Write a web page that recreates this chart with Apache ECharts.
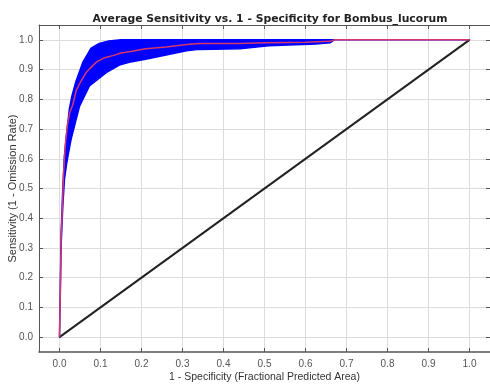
<!DOCTYPE html>
<html>
<head>
<meta charset="utf-8">
<script src="https://cdn.jsdelivr.net/npm/echarts@6/dist/echarts.min.js"></script>
<style>html,body{margin:0;padding:0;background:#fff}#c{width:490px;height:388px}</style>
</head>
<body>
<div id="c"></div>
<script>
var titleText = 'Average Sensitivity vs. 1 - Specificity for Bombus_lucorum';
var xName = '1 - Specificity (Fractional Predicted Area)';
var yName = 'Sensitivity (1 - Omission Rate)';
var tickValues = [0, 0.1, 0.2, 0.3, 0.4, 0.5, 0.6, 0.7, 0.8, 0.9, 1.0];

var meanX = [0, 0.002, 0.004, 0.006, 0.008, 0.010, 0.012, 0.015, 0.020, 0.025, 0.032, 0.041, 0.050, 0.065, 0.075, 0.090, 0.110, 0.130, 0.150, 0.170, 0.210, 0.260, 0.310, 0.340, 0.440, 0.500, 0.600, 0.660, 0.670, 1.0];
var meanY = [0, 0.15, 0.33, 0.40, 0.47, 0.55, 0.60, 0.66, 0.72, 0.755, 0.78, 0.83, 0.855, 0.89, 0.905, 0.925, 0.94, 0.947, 0.956, 0.96, 0.97, 0.976, 0.984, 0.988, 0.988, 0.99, 0.992, 0.995, 1.0, 1.0];

var upperX = [0, 0.004, 0.008, 0.012, 0.017, 0.024, 0.030, 0.040, 0.057, 0.077, 0.097, 0.120, 0.150, 0.670, 1.0];
var upperY = [0, 0.35, 0.50, 0.61, 0.68, 0.767, 0.81, 0.86, 0.925, 0.972, 0.988, 0.996, 1.0, 1.0, 1.0];

var lowerX = [0, 0.004, 0.008, 0.012, 0.017, 0.022, 0.029, 0.049, 0.073, 0.114, 0.146, 0.170, 0.210, 0.310, 0.340, 0.440, 0.510, 0.625, 0.660, 0.670, 1.0];
var lowerY = [0, 0.31, 0.44, 0.53, 0.58, 0.62, 0.67, 0.777, 0.845, 0.89, 0.915, 0.925, 0.935, 0.963, 0.968, 0.970, 0.980, 0.986, 0.990, 1.0, 1.0];

var diagX = [0, 1];
var diagY = [0, 1];

function pairs(xs, ys) { return xs.map(function (x, i) { return [x, ys[i]]; }); }

var chart = echarts.init(document.getElementById('c'), null, { renderer: 'canvas' });

function axisBase(extra) {
  var a = {
    type: 'value', min: -0.05, max: 1.05,
    axisLine: { show: true, onZero: false, lineStyle: { color: '#555', width: 1 } },
    axisTick: { show: true, inside: true, length: 4, customValues: tickValues, lineStyle: { color: '#555' } },
    axisLabel: { show: false },
    splitLine: { show: false }
  };
  return Object.assign(a, extra);
}

var labelStyle = { fontFamily: 'Liberation Sans, Arial', fontSize: 10, color: '#555' };

chart.setOption({
  animation: false,
  title: {
    text: titleText, left: 265, top: 9, textAlign: 'center',
    textStyle: { fontFamily: 'DejaVu Sans', fontSize: 10.8, fontWeight: 'bold', color: '#222' }
  },
  grid: { left: 39, top: 25, width: 451, height: 327, containLabel: false, outerBoundsMode: 'none' },
  xAxis: [
    axisBase({
      position: 'bottom',
      name: xName, nameLocation: 'middle', nameGap: 20, nameMoveOverlap: false,
      nameTextStyle: { fontFamily: 'Liberation Sans, Arial', fontSize: 10.5, color: '#333' },
      axisLine: { show: true, onZero: false, lineStyle: { color: '#555', width: 1.5 } },
      axisLabel: Object.assign({ show: true, customValues: tickValues, margin: 7,
        formatter: function (v) { return v.toFixed(1); } }, labelStyle),
      splitLine: { show: true, lineStyle: { color: '#dcdcdc', width: 1 } }
    }),
    axisBase({ position: 'top' })
  ],
  yAxis: [
    axisBase({
      position: 'left',
      name: yName, nameLocation: 'middle', nameGap: 21, nameMoveOverlap: false,
      nameTextStyle: { fontFamily: 'Liberation Sans, Arial', fontSize: 11, color: '#333' },
      axisLabel: Object.assign({ show: true, customValues: tickValues, margin: 6,
        formatter: function (v) { return v.toFixed(1); } }, labelStyle),
      splitLine: { show: true, lineStyle: { color: '#dcdcdc', width: 1 } }
    }),
    axisBase({ position: 'right' })
  ],
  series: [
    {
      type: 'custom',
      xAxisIndex: 0, yAxisIndex: 0,
      silent: true,
      clip: true,
      data: [[0, 0]],
      renderItem: function (params, api) {
        var pts = [];
        for (var i = 0; i < upperX.length; i++) pts.push(api.coord([upperX[i], upperY[i]]));
        for (var j = lowerX.length - 1; j >= 0; j--) pts.push(api.coord([lowerX[j], lowerY[j]]));
        return {
          type: 'polygon',
          shape: { points: pts },
          style: { fill: '#0000ff', stroke: '#0000ff', lineWidth: 1.5, lineJoin: 'round' }
        };
      },
      z: 2
    },
    {
      type: 'line', data: pairs(diagX, diagY), symbol: 'none',
      lineStyle: { color: '#222', width: 2 }, z: 3
    },
    {
      type: 'line', data: pairs(meanX, meanY), symbol: 'none',
      lineStyle: { color: '#d6386a', width: 1.5 }, z: 4
    }
  ]
});
</script>
</body>
</html>
